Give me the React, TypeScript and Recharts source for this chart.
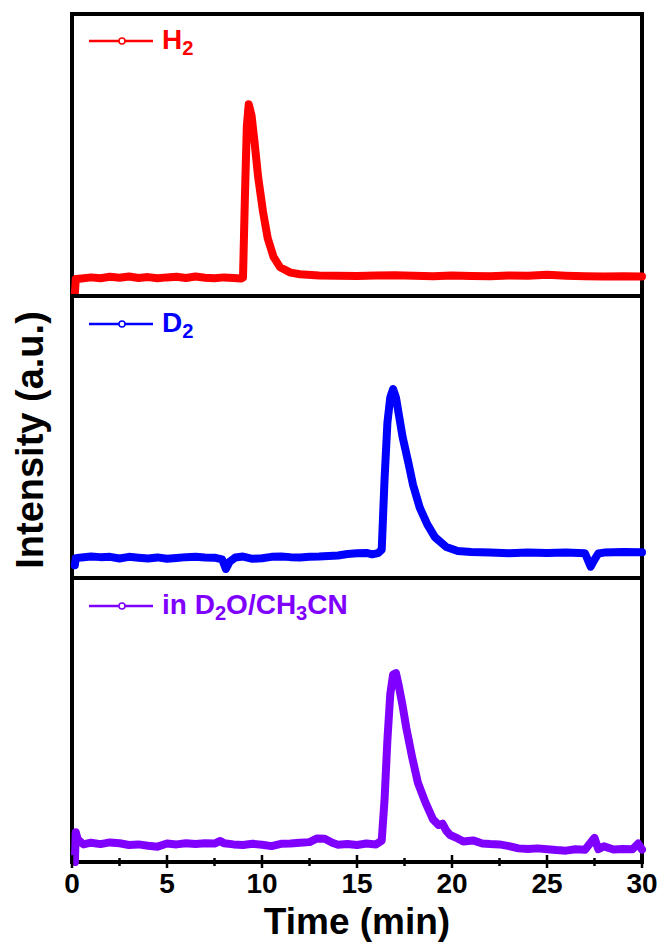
import React from "react";
import { LineChart, Line, XAxis, YAxis, Legend, ReferenceArea } from "recharts";

// time (min) and intensity (a.u., 0-100 per panel)
const TIME_H2 = [
  0.15, 0.2, 0.5, 1, 1.5, 2, 2.5, 3, 3.5, 4, 4.5, 5, 5.5, 6, 6.5, 7, 7.5, 8, 8.5, 8.9,
  9.0, 9.1, 9.2, 9.3, 9.45, 9.6, 9.8, 10.05, 10.3, 10.6, 10.95, 11.5, 12, 13, 14, 15, 16,
  17, 18, 19, 20, 21, 22, 23, 24, 25, 26, 27, 28, 29, 30,
];
const H2 = [
  0.8, 6.0, 6.2, 6.6, 6.3, 6.8, 6.5, 6.9, 6.4, 6.7, 6.3, 6.6, 6.8, 6.4, 6.9, 6.5, 6.3, 6.6, 6.4, 6.2,
  6.5, 35, 60, 68, 64, 55, 42, 30, 20.5, 14, 10.2, 8.3, 7.7, 7.3, 7.2, 7.1, 7.3,
  7.4, 7.2, 7.0, 7.3, 7.1, 7.0, 7.3, 7.2, 7.5, 7.2, 7.0, 6.9, 7.0, 6.9,
];

const TIME_D2 = [
  0.15, 0.2, 0.5, 1, 1.5, 2, 2.5, 3, 3.5, 4, 4.5, 5, 5.5, 6, 6.5, 7, 7.5, 7.9, 8.1, 8.3, 8.6,
  9, 9.5, 10, 10.5, 11, 11.5, 12, 12.5, 13, 13.5, 14, 14.5, 15, 15.5, 15.8, 16.1, 16.3, 16.45,
  16.6, 16.75, 16.9, 17.05, 17.2, 17.4, 17.7, 17.95, 18.3, 18.7, 19.1, 19.7, 20.3, 21, 22, 23,
  24, 25, 26, 27, 27.3, 27.5, 27.7, 28, 29, 30,
];
const D2 = [
  4.5, 7.0, 7.3, 7.6, 7.4, 7.5, 6.9, 7.5, 7.2, 6.9, 7.3, 6.8, 7.1, 7.4, 7.5, 7.3, 7.2, 6.6, 3.2, 5.8, 7.3,
  7.6, 6.8, 7.0, 7.5, 7.6, 7.4, 7.3, 7.5, 7.6, 7.8, 8.0, 8.5, 8.8, 8.9, 8.4, 8.8, 10, 35,
  55, 64, 67, 64, 58, 50, 41, 33, 25, 19, 14.5, 11, 9.6, 9.2, 9.0, 8.8,
  9.0, 8.9, 9.0, 8.8, 4.0, 6.5, 8.7, 9.0, 9.2, 9.1,
];

const TIME_MIX = [
  0.15, 0.2, 0.3, 0.6, 1, 1.5, 2, 2.5, 3, 3.5, 4, 4.5, 5, 5.5, 6, 6.5, 7, 7.5, 7.8, 8, 8.5, 9,
  9.5, 10, 10.5, 11, 11.5, 12, 12.5, 12.9, 13.3, 13.7, 14, 14.5, 15, 15.5, 16, 16.3, 16.45,
  16.6, 16.75, 16.9, 17.05, 17.2, 17.4, 17.6, 17.9, 18.2, 18.6, 19.0, 19.3, 19.5, 19.7, 19.9,
  20.3, 20.6, 21.1, 21.6, 22, 22.5, 23, 23.5, 24, 24.5, 25, 25.5, 26, 26.5, 27, 27.5, 27.7,
  28, 28.5, 29, 29.5, 29.8, 30,
];
const MIX = [
  0.0, 10.5, 8, 6.2, 6.8, 6.3, 6.9, 6.6, 6.0, 6.2, 5.7, 5.4, 6.5, 6.2, 6.6, 6.3, 6.6, 6.5, 7.4, 6.6, 6.2, 6.0,
  6.4, 6.1, 5.6, 6.4, 6.5, 6.8, 7.0, 8.3, 8.2, 6.8, 6.1, 6.3, 6.0, 6.5, 6.2, 7.5, 22,
  43, 59, 66, 66.5, 62, 55, 47, 37, 28, 21, 15, 13, 13.5, 11, 9.5,
  8.3, 7.2, 7.6, 6.5, 6.3, 6.2, 5.6, 4.8, 4.6, 4.8, 4.5, 4.2, 4.0, 4.5, 4.3, 8.5, 4.5,
  5.5, 4.4, 4.6, 4.5, 6.5, 4.4,
];

const X_TICKS = [0, 2.5, 5, 7.5, 10, 12.5, 15, 17.5, 20, 22.5, 25, 27.5, 30];

const FONT = "'Liberation Sans', Arial, sans-serif";

const toRows = (t: number[], v: number[]) => t.map((x, i) => ({ t: x, v: v[i] }));

function LegendItem({ color, label }: { color: string; label: React.ReactNode }) {
  return (
    <div style={{ display: "flex", alignItems: "center", fontFamily: FONT }}>
      <svg width={66} height={12}>
        <line x1={1} x2={65} y1={6} y2={6} stroke={color} strokeWidth={2.5} />
        <circle cx={34} cy={6} r={3} fill="#fff" stroke={color} strokeWidth={1.5} />
      </svg>
      <span style={{ marginLeft: 8, fontSize: 28, fontWeight: "bold", color, whiteSpace: "nowrap", lineHeight: "32px" }}>
        {label}
      </span>
    </div>
  );
}

const Sub = ({ children }: { children: React.ReactNode }) => (
  <span style={{ fontSize: "0.72em", position: "relative", top: "0.32em" }}>{children}</span>
);

function TimeTick(props: any) {
  const { x, y, payload } = props;
  const major = payload.value % 5 === 0;
  return (
    <g>
      <line x1={x} x2={x} y1={y - (major ? 7 : 4)} y2={y + (major ? 6 : 4)} stroke="#000" strokeWidth={2.5} />
      {major && (
        <text x={x} y={y + 31} textAnchor="middle" fill="#000" fontSize={28} fontWeight="bold" fontFamily={FONT}>
          {payload.value}
        </text>
      )}
    </g>
  );
}

function Panel({
  t, v, color, label, top, height, bottomAxis, legendTop,
}: {
  t: number[]; v: number[]; color: string; label: React.ReactNode;
  top: number; height: number; bottomAxis: boolean; legendTop: number;
}) {
  const axisHeight = bottomAxis ? height - 14 - 284 : 0;
  return (
    <div style={{ position: "absolute", left: 0, top }}>
      <LineChart
        width={660}
        height={height}
        data={toRows(t, v)}
        margin={{ top: 14, right: 18, bottom: bottomAxis ? 0 : 14, left: 72 }}
      >
        <XAxis
          dataKey="t"
          type="number"
          domain={[0, 30]}
          ticks={X_TICKS}
          interval={0}
          height={axisHeight}
          axisLine={false}
          tickLine={false}
          tickSize={0}
          tickMargin={0}
          tick={bottomAxis ? <TimeTick /> : false}
          hide={!bottomAxis}
          label={
            bottomAxis
              ? { value: "Time (min)", position: "insideBottom", offset: 9, fill: "#000", fontSize: 37, fontWeight: "bold" }
              : undefined
          }
        />
        <YAxis type="number" domain={[0, 100]} hide />
        <ReferenceArea
          x1={0}
          x2={30}
          y1={0}
          y2={100}
          fill="none"
          fillOpacity={0}
          stroke="#000"
          strokeWidth={4}
          ifOverflow="visible"
        />
        <Legend
          layout="horizontal"
          verticalAlign="middle"
          align="center"
          wrapperStyle={{ left: 88, top: legendTop, width: "auto" }}
          content={() => <LegendItem color={color} label={label} />}
        />
        <Line
          dataKey="v"
          type="linear"
          stroke={color}
          strokeWidth={8}
          strokeLinejoin="round"
          strokeLinecap="round"
          dot={false}
          isAnimationActive={false}
        />
      </LineChart>
    </div>
  );
}

export default function App() {
  return (
    <div style={{ position: "absolute", left: 0, top: 0, width: 660, height: 943, background: "#fff", fontFamily: FONT }}>
      <Panel t={TIME_H2} v={H2} color="#FF0000" label={<>H<Sub>2</Sub></>} top={0} height={310} bottomAxis={false} legendTop={24} />
      <Panel t={TIME_D2} v={D2} color="#0000FF" label={<>D<Sub>2</Sub></>} top={282} height={310} bottomAxis={false} legendTop={25} />
      <Panel
        t={TIME_MIX}
        v={MIX}
        color="#8000FF"
        label={<>in D<Sub>2</Sub>O/CH<Sub>3</Sub>CN</>}
        top={564}
        height={379}
        bottomAxis={true}
        legendTop={25}
      />
      <div
        style={{
          position: "absolute",
          left: 30,
          top: 440,
          transform: "translate(-50%, -50%) rotate(-90deg)",
          fontSize: 38,
          fontWeight: "bold",
          whiteSpace: "nowrap",
          lineHeight: 1,
        }}
      >
        Intensity (a.u.)
      </div>
    </div>
  );
}
